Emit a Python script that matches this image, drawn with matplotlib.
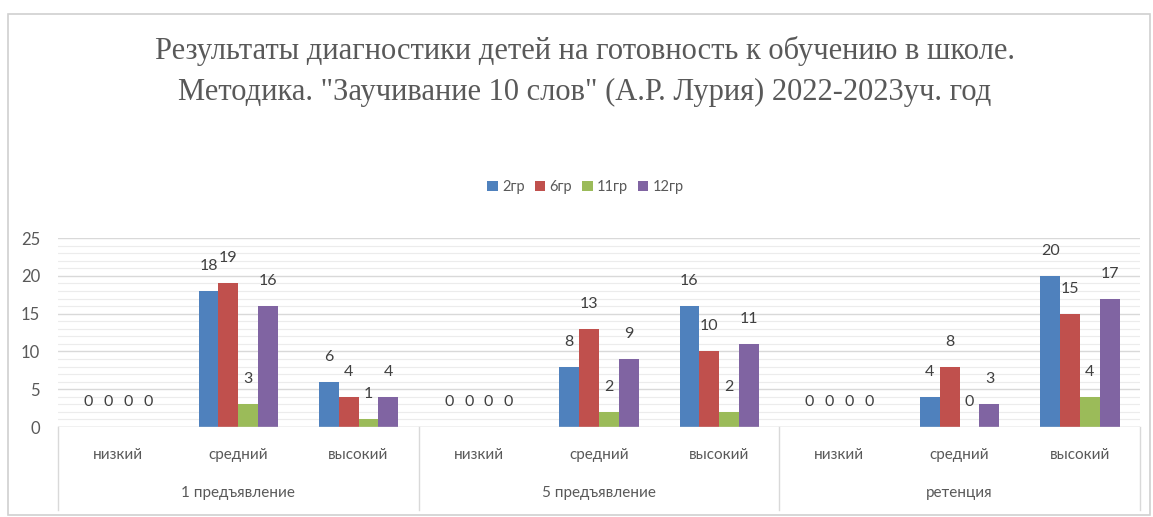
import numpy as np
import matplotlib.pyplot as plt
import matplotlib.transforms as mtransforms
from matplotlib.patches import Rectangle

# Данные диаграммы
levels = ['низкий', 'средний', 'высокий']
stages = ['1 предъявление', '5 предъявление', 'ретенция']
groups = ['2гр', '6гр', '11гр', '12гр']
gr2 = [0, 18, 6, 0, 8, 16, 0, 4, 20]
gr6 = [0, 19, 4, 0, 13, 10, 0, 8, 15]
gr11 = [0, 3, 1, 0, 2, 2, 0, 0, 4]
gr12 = [0, 16, 4, 0, 9, 11, 0, 3, 17]
colors = ['#4F81BD', '#C0504D', '#9BBB59', '#8064A2']

title = ('Результаты диагностики детей на готовность к обучению в школе.\n'
         'Методика. "Заучивание 10 слов" (А.Р. Лурия) 2022-2023уч. год')

plt.rcParams['font.family'] = ['Lato', 'DejaVu Sans']
text_color = '#595959'

fig = plt.figure(figsize=(11.53, 5.17), dpi=100)
fig.patches.append(Rectangle((0.007, 0.004), 0.99, 0.968, transform=fig.transFigure,
                             fill=False, edgecolor='#d0d0d0', linewidth=1.2))

ax = fig.add_axes([0.0503, 0.174, 0.9384, 0.3656])

series = [gr2, gr6, gr11, gr12]
x = np.arange(len(gr2))
w = 0.165
for i, (vals, name) in enumerate(zip(series, groups)):
    pos = x + (i - 1.5) * w
    bars = ax.bar(pos, vals, width=w, color=colors[i], label=name, zorder=3)
    for b, v in zip(bars, vals):
        ax.annotate(str(v), (b.get_x() + b.get_width() / 2, v),
                    xytext=(0, 18), textcoords='offset points',
                    ha='center', va='center', fontsize=11.5, color='#404040')

ax.set_xlim(-0.5, 8.5)
ax.set_ylim(0, 25)
ax.set_yticks(np.arange(0, 26, 5))
ax.set_yticks(np.arange(0, 26, 1), minor=True)
ax.grid(axis='y', which='major', color='#d9d9d9', linewidth=1, zorder=0)
ax.grid(axis='y', which='minor', color='#ececec', linewidth=0.8, zorder=0)
ax.tick_params(axis='y', which='both', length=0, labelsize=12, labelcolor=text_color, pad=13)
ax.set_xticks([])
for s in ax.spines.values():
    s.set_visible(False)
ax.axhline(0, color='#d9d9d9', linewidth=1, zorder=4)

# многоуровневая ось категорий
trans = mtransforms.blended_transform_factory(ax.transData, ax.transAxes)
for k in range(len(gr2)):
    ax.text(k, -0.148, levels[k % 3], transform=trans, ha='center', va='center',
            fontsize=11, color=text_color)
for g, name in enumerate(stages):
    ax.text(g * 3 + 1, -0.349, name, transform=trans, ha='center', va='center',
            fontsize=11, color=text_color)
for xb in [-0.5, 2.5, 5.5, 8.5]:
    ax.plot([xb, xb], [0, -0.44], transform=trans, color='#d9d9d9',
            linewidth=1, clip_on=False)

fig.text(0.507, 0.862, title, ha='center', va='center', fontsize=22,
         family=['Liberation Serif'], color=text_color, linespacing=1.55)

leg = fig.legend(loc='center', bbox_to_anchor=(0.508, 0.638), ncol=4, frameon=False,
                 fontsize=10.5, handlelength=0.7, handleheight=0.7, handletextpad=0.3,
                 columnspacing=0.7)
for t in leg.get_texts():
    t.set_color(text_color)

fig.savefig('out.png', dpi=100)
